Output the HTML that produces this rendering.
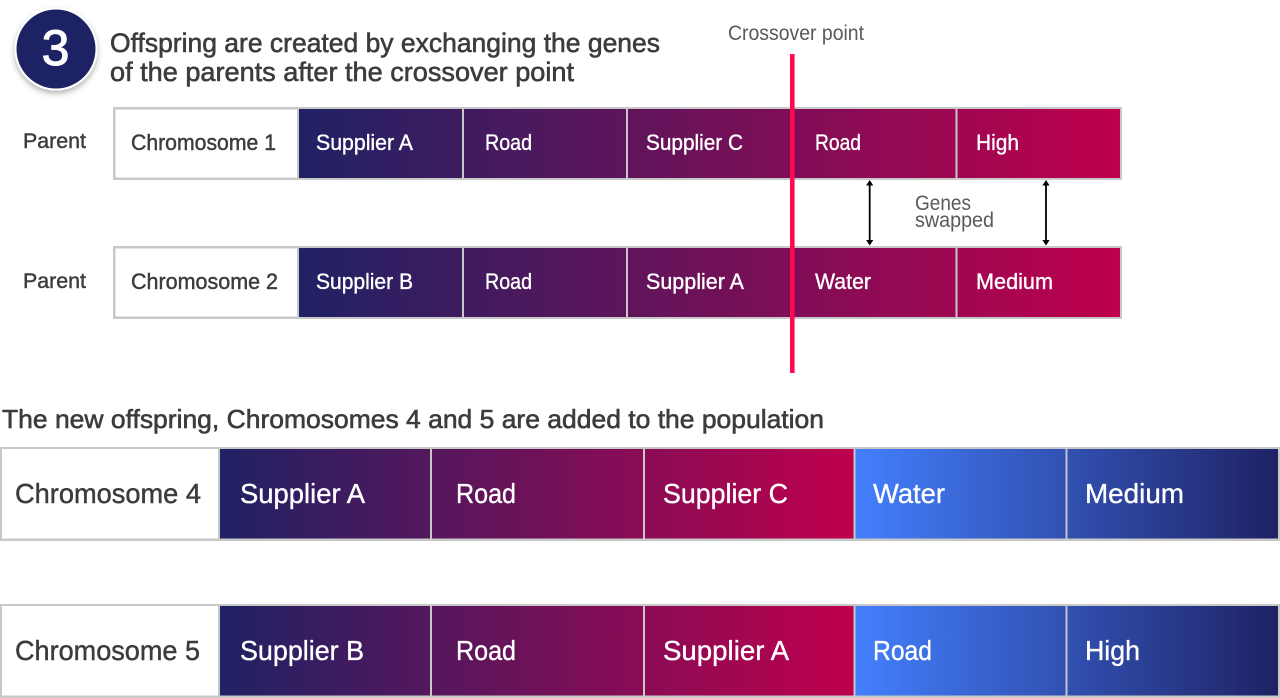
<!DOCTYPE html>
<html><head><meta charset="utf-8">
<style>
html,body{margin:0;padding:0;background:#fff;width:1280px;height:698px;overflow:hidden}
svg{display:block}
text{font-family:"Liberation Sans",sans-serif;fill:#3c3c3c;stroke:#3c3c3c;stroke-width:.45px}
.w{fill:#fff;stroke:#fff;stroke-width:.35px}
.l{stroke:none;fill:#5a5a5a}
</style></head><body>
<svg width="1280" height="698" viewBox="0 0 1280 698" xmlns="http://www.w3.org/2000/svg">
<defs>
<linearGradient id="g1" gradientUnits="userSpaceOnUse" x1="299" y1="0" x2="1120" y2="0"><stop offset="0" stop-color="#1f2264"/><stop offset="1" stop-color="#bf004d"/></linearGradient>
<linearGradient id="g2" gradientUnits="userSpaceOnUse" x1="220" y1="0" x2="853" y2="0"><stop offset="0" stop-color="#1f2264"/><stop offset="1" stop-color="#bf004d"/></linearGradient>
<linearGradient id="g3" gradientUnits="userSpaceOnUse" x1="856" y1="0" x2="1278" y2="0"><stop offset="0" stop-color="#437ffd"/><stop offset="1" stop-color="#1f2264"/></linearGradient>
<filter id="s" x="-30%" y="-30%" width="160%" height="160%"><feDropShadow dx="0" dy="3" stdDeviation="3" flood-color="#000" flood-opacity=".3"/></filter>
</defs>

<circle cx="56" cy="49" r="40.5" fill="#1f2264" stroke="#fff" stroke-width="2" filter="url(#s)"/>
<text class="w" x="55.5" y="65" font-size="50" text-anchor="middle" style="stroke-width:1px">3</text>

<text x="110" y="52" font-size="27" textLength="550" lengthAdjust="spacingAndGlyphs" style="stroke-width:.6px">Offspring are created by exchanging the genes</text>
<text x="110" y="81" font-size="27" textLength="464" lengthAdjust="spacingAndGlyphs" style="stroke-width:.6px">of the parents after the crossover point</text>
<text class="l" x="728" y="40" font-size="21" textLength="136" lengthAdjust="spacingAndGlyphs">Crossover point</text>

<!-- Parent 1 -->
<rect x="113" y="107" width="1009" height="73" fill="#c8c8c8"/>
<rect x="115.500" y="109.500" width="181.500" height="68" fill="#fff"/>
<rect x="299" y="109" width="821" height="69" fill="url(#g1)"/>
<rect x="462" y="109" width="2" height="69" fill="#c8c8c8"/>
<rect x="626" y="109" width="2" height="69" fill="#c8c8c8"/>
<rect x="955.500" y="109" width="2" height="69" fill="#c8c8c8"/>
<text x="23" y="148" font-size="21" textLength="63" lengthAdjust="spacingAndGlyphs">Parent</text>
<text x="131" y="150" font-size="22" textLength="145" lengthAdjust="spacingAndGlyphs">Chromosome 1</text>
<text class="w" x="316" y="150" font-size="22" textLength="97" lengthAdjust="spacingAndGlyphs">Supplier A</text>
<text class="w" x="485" y="150" font-size="22" textLength="47" lengthAdjust="spacingAndGlyphs">Road</text>
<text class="w" x="646" y="150" font-size="22" textLength="97" lengthAdjust="spacingAndGlyphs">Supplier C</text>
<text class="w" x="815" y="150" font-size="22" textLength="46" lengthAdjust="spacingAndGlyphs">Road</text>
<text class="w" x="976" y="150" font-size="22" textLength="43" lengthAdjust="spacingAndGlyphs">High</text>

<!-- Parent 2 -->
<rect x="113" y="246" width="1009" height="73" fill="#c8c8c8"/>
<rect x="115.500" y="248.500" width="181.500" height="68" fill="#fff"/>
<rect x="299" y="248" width="821" height="69" fill="url(#g1)"/>
<rect x="462" y="248" width="2" height="69" fill="#c8c8c8"/>
<rect x="626" y="248" width="2" height="69" fill="#c8c8c8"/>
<rect x="955.500" y="248" width="2" height="69" fill="#c8c8c8"/>
<text x="23" y="288" font-size="21" textLength="63" lengthAdjust="spacingAndGlyphs">Parent</text>
<text x="131" y="289" font-size="22" textLength="147" lengthAdjust="spacingAndGlyphs">Chromosome 2</text>
<text class="w" x="316" y="289" font-size="22" textLength="97" lengthAdjust="spacingAndGlyphs">Supplier B</text>
<text class="w" x="485" y="289" font-size="22" textLength="47" lengthAdjust="spacingAndGlyphs">Road</text>
<text class="w" x="646" y="289" font-size="22" textLength="98" lengthAdjust="spacingAndGlyphs">Supplier A</text>
<text class="w" x="815" y="289" font-size="22" textLength="56" lengthAdjust="spacingAndGlyphs">Water</text>
<text class="w" x="976" y="289" font-size="22" textLength="77" lengthAdjust="spacingAndGlyphs">Medium</text>

<!-- Crossover line -->
<rect x="790" y="54" width="4.600" height="319" fill="#ff0a50"/>

<!-- Swap arrows -->
<g fill="#000" stroke="none">
<rect x="868.800" y="184" width="1.800" height="58"/><path d="M869.700 180l3.600 5.500h-7.200zM869.700 245.500l3.600-5.500h-7.200z"/>
<rect x="1045.100" y="184" width="1.800" height="58"/><path d="M1046 180l3.600 5.500h-7.200zM1046 245.500l3.600-5.500h-7.200z"/>
</g>
<text class="l" x="915" y="210" font-size="21" textLength="56" lengthAdjust="spacingAndGlyphs">Genes</text>
<text class="l" x="915" y="227" font-size="21" textLength="79" lengthAdjust="spacingAndGlyphs">swapped</text>

<text x="2" y="428" font-size="26" textLength="822" lengthAdjust="spacingAndGlyphs" style="stroke-width:.6px">The new offspring, Chromosomes 4 and 5 are added to the population</text>

<!-- Chromosome 4 -->
<rect x="0" y="447" width="1280" height="94" fill="#c8c8c8"/>
<rect x="2" y="449" width="216" height="89.500" fill="#fff"/>
<rect x="220" y="449" width="633.500" height="89.500" fill="url(#g2)"/>
<rect x="855.500" y="449" width="422.500" height="89.500" fill="url(#g3)"/>
<rect x="430" y="449" width="2" height="89.500" fill="#c8c8c8"/>
<rect x="643" y="449" width="2" height="89.500" fill="#c8c8c8"/>
<rect x="1065.500" y="449" width="2" height="89.500" fill="#c0c4d0"/>
<text x="15" y="503" font-size="28" textLength="186" lengthAdjust="spacingAndGlyphs">Chromosome 4</text>
<text class="w" x="240" y="503" font-size="28" textLength="125" lengthAdjust="spacingAndGlyphs">Supplier A</text>
<text class="w" x="456" y="503" font-size="28" textLength="60" lengthAdjust="spacingAndGlyphs">Road</text>
<text class="w" x="663" y="503" font-size="28" textLength="125" lengthAdjust="spacingAndGlyphs">Supplier C</text>
<text class="w" x="873" y="503" font-size="28" textLength="72" lengthAdjust="spacingAndGlyphs">Water</text>
<text class="w" x="1085" y="503" font-size="28" textLength="99" lengthAdjust="spacingAndGlyphs">Medium</text>

<!-- Chromosome 5 -->
<rect x="0" y="604" width="1280" height="94" fill="#c8c8c8"/>
<rect x="2" y="606" width="216" height="89.500" fill="#fff"/>
<rect x="220" y="606" width="633.500" height="89.500" fill="url(#g2)"/>
<rect x="855.500" y="606" width="422.500" height="89.500" fill="url(#g3)"/>
<rect x="430" y="606" width="2" height="89.500" fill="#c8c8c8"/>
<rect x="643" y="606" width="2" height="89.500" fill="#c8c8c8"/>
<rect x="1065.500" y="606" width="2" height="89.500" fill="#c0c4d0"/>
<text x="15" y="660" font-size="28" textLength="185" lengthAdjust="spacingAndGlyphs">Chromosome 5</text>
<text class="w" x="240" y="660" font-size="28" textLength="124" lengthAdjust="spacingAndGlyphs">Supplier B</text>
<text class="w" x="456" y="660" font-size="28" textLength="60" lengthAdjust="spacingAndGlyphs">Road</text>
<text class="w" x="663" y="660" font-size="28" textLength="126" lengthAdjust="spacingAndGlyphs">Supplier A</text>
<text class="w" x="873" y="660" font-size="28" textLength="59" lengthAdjust="spacingAndGlyphs">Road</text>
<text class="w" x="1085" y="660" font-size="28" textLength="55" lengthAdjust="spacingAndGlyphs">High</text>
</svg>
</body></html>
